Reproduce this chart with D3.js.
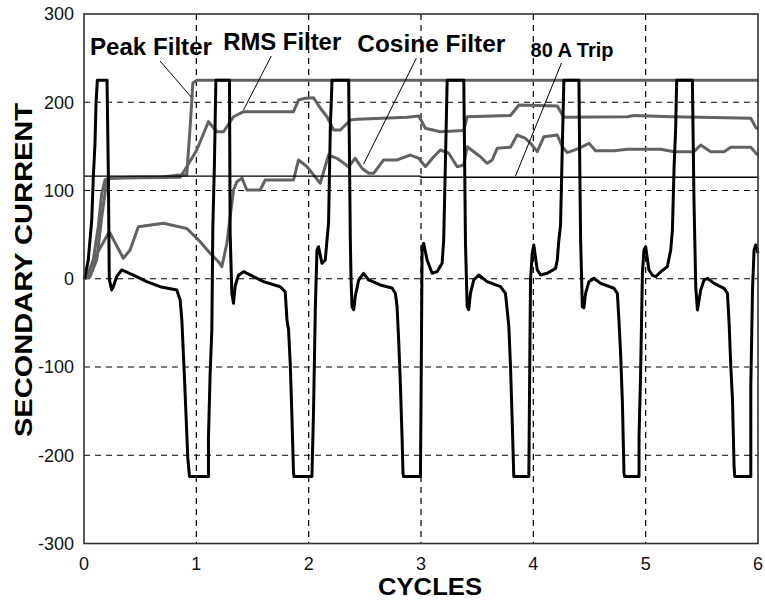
<!DOCTYPE html>
<html><head><meta charset="utf-8">
<script src="https://cdn.jsdelivr.net/npm/d3@7"></script>
<style>body{margin:0;background:#fff}svg{display:block}</style>
</head><body>
<svg id="chart" width="765" height="604"></svg>
<script>
// ---- data (cycles, amperes) ----
const xTicks = [0, 1, 2, 3, 4, 5, 6];
const yTicks = [-300, -200, -100, 0, 100, 200, 300];
const xGrid = [1, 2, 3, 4, 5];
const yGrid = [-200, -100, 0, 100, 200];

const current = [
 [0,0],[0.009,2.3],[0.038,21.2],[0.069,66.6],[0.083,115.6],[0.098,153.5],[0.107,198.8],[0.119,225],
 [0.205,225],[0.217,115],[0.225,-1],[0.247,-12.7],[0.261,-9],[0.291,2.3],[0.336,10],[0.439,4.2],
 [0.559,-3.3],[0.677,-9],[0.826,-12.7],[0.856,-24],[0.871,-46.7],[0.880,-72],[0.894,-111],[0.909,-157],
 [0.924,-203],[0.939,-224],[1.108,-224],[1.108,-179],[1.123,-107],[1.138,-58],[1.147,59],[1.161,130],
 [1.174,225],[1.295,225],[1.301,51.5],[1.316,-16.5],[1.331,-27.8],[1.346,-8],[1.375,4],[1.420,8],
 [1.598,-3.3],[1.747,-9],[1.791,-14.7],[1.807,-46.7],[1.821,-58],[1.836,-96],[1.851,-156],[1.865,-220],
 [1.870,-224],[2.029,-224],[2.044,-145],[2.059,-35],[2.074,32.6],[2.088,36.3],[2.118,17.5],[2.148,21.2],
 [2.163,43.9],[2.177,62.8],[2.193,172],[2.208,225],[2.356,225],[2.371,44],[2.377,0],[2.386,-31.7],
 [2.401,-35],[2.415,-20],[2.445,-1.4],[2.489,6.2],[2.534,-1.4],[2.638,-7],[2.742,-10.5],[2.772,-16.5],
 [2.787,-31.7],[2.801,-69],[2.816,-118],[2.832,-182],[2.840,-221],[2.845,-224],[2.995,-224],[3.001,-126],
 [3.010,36],[3.024,40.2],[3.054,21.2],[3.099,6.2],[3.143,8],[3.188,17.5],[3.202,43.9],[3.217,130],
 [3.233,225],[3.381,225],[3.396,40],[3.411,-31.7],[3.425,-35],[3.440,-16.5],[3.470,-1.4],[3.514,4.2],
 [3.589,-3.3],[3.708,-9],[3.752,-16.5],[3.782,-54],[3.797,-100],[3.812,-162],[3.826,-224],[3.960,-224],
 [3.969,-84.5],[3.975,-1.4],[3.990,28.8],[4.004,38.2],[4.035,10],[4.064,4.2],[4.124,6.2],[4.198,11.8],
 [4.213,21.2],[4.227,43.9],[4.242,60],[4.258,150],[4.272,225],[4.406,225],[4.414,120],[4.421,44],
 [4.436,-31.7],[4.450,-33],[4.465,-16.5],[4.495,-3.3],[4.539,0.5],[4.599,-5.2],[4.718,-10.8],[4.748,-16.5],
 [4.762,-46.7],[4.777,-84.5],[4.793,-141],[4.807,-220],[4.812,-224],[4.941,-224],[4.941,-179],[4.955,-107],
 [4.971,6.2],[4.985,32.6],[5.000,36.3],[5.029,9.9],[5.060,4.2],[5.089,2.3],[5.134,8],[5.193,13.7],
 [5.223,32.6],[5.238,55],[5.253,127],[5.267,170],[5.276,225],[5.416,225],[5.430,89],[5.446,-10],
 [5.461,-35.4],[5.490,-12.7],[5.520,-1.4],[5.550,0.5],[5.609,-5.2],[5.698,-10.8],[5.728,-16.5],[5.743,-50.5],
 [5.758,-99.7],[5.773,-137.4],[5.787,-213],[5.793,-224],[5.936,-224],[5.936,-122],[5.951,-12.7],[5.965,32.6],
 [5.980,38.2],[6.0,29]
];

const peakFilter = [
 [0,0],[0.024,2.3],[0.083,21.2],[0.127,59],[0.158,96.8],[0.187,112],[0.217,114],[0.400,115],
 [0.707,115.6],[0.856,117.6],[0.915,117.6],[0.945,172.3],[0.960,202.5],[0.969,221.8],[1.004,225],[6.0,225]
];

const rmsFilter = [
 [0,0],[0.053,2.3],[0.113,21.2],[0.158,70.3],[0.202,110],[0.232,114],[0.500,114.5],[0.856,115],
 [0.915,127],[1.004,145.9],[1.108,178],[1.183,166.6],[1.242,166.6],[1.331,183.6],[1.420,189.3],[1.865,189.3],
 [1.910,202.5],[1.970,204.5],[2.044,205],[2.103,193.5],[2.163,183.6],[2.222,168.6],[2.282,168.6],[2.371,179.9],
 [2.431,180.7],[2.876,183],[2.980,184.4],[3.039,170.5],[3.173,166.6],[3.381,168],[3.411,183.6],[3.797,185],
 [3.871,196.9],[4.213,195.8],[4.272,183],[4.837,183.6],[4.896,185],[5.223,183.6],[5.490,183],[5.936,181.8],
 [5.980,171.4],[6.0,169.7]
];

const cosineFilter = [
 [0,0],[0.024,2.3],[0.100,25],[0.225,53.3],[0.350,23.2],[0.410,32.6],[0.484,59],[0.707,62.8],
 [0.915,57],[1.034,42],[1.123,29],[1.197,19.3],[1.227,13.7],[1.272,40.2],[1.301,70.3],[1.331,100.6],
 [1.361,110],[1.406,114],[1.450,100.6],[1.569,100.6],[1.613,111.9],[1.865,111.9],[1.910,134.6],[1.985,127],
 [2.103,108.2],[2.177,140.2],[2.252,136.5],[2.356,127],[2.415,136.5],[2.475,125.2],[2.534,119.5],[2.578,119.5],
 [2.668,134.6],[2.787,134.6],[2.906,140.2],[2.980,136.5],[3.039,127],[3.113,138.3],[3.173,145.9],[3.247,142.2],
 [3.322,127],[3.381,128.9],[3.411,149.6],[3.529,138.3],[3.589,130.8],[3.634,134.6],[3.678,147.8],[3.797,149],
 [3.856,162.9],[3.930,159],[3.975,153.5],[4.035,144],[4.094,161],[4.213,162.9],[4.258,149.6],[4.302,143],
 [4.406,147.8],[4.495,153.5],[4.554,145],[4.718,145],[4.837,146.7],[5.134,146.7],[5.253,144],[5.430,144],
 [5.490,151.6],[5.579,144],[5.698,144],[5.758,149],[5.936,149],[5.996,140.2]
];

const tripLevel = [[0,116.4],[3,116.4],[3,115],[6,115]];

const annotationText = ["Peak Filter", "RMS Filter", "Cosine Filter", "80 A Trip"];
const xTitle = "CYCLES";
const yTitle = "SECONDARY CURRENT";

// ---- drawing ----
const svg = d3.select("#chart");
const x = d3.scaleLinear().domain([0, 6]).range([84, 758]);
const y = d3.scaleLinear().domain([-300, 300]).range([543.5, 14]);
const FONT = "'Liberation Sans', Arial, Helvetica, sans-serif";

// grid
const g = svg.append("g");
g.selectAll("line.vg").data(xGrid).enter().append("line")
  .attr("x1", d => x(d)).attr("x2", d => x(d)).attr("y1", y(300)).attr("y2", y(-300))
  .attr("stroke", "#000").attr("stroke-width", 1.2).attr("stroke-dasharray", "6,5");
g.selectAll("line.hg").data(yGrid).enter().append("line")
  .attr("x1", x(0)).attr("x2", x(6)).attr("y1", d => y(d)).attr("y2", d => y(d))
  .attr("stroke", "#000").attr("stroke-width", 1.2).attr("stroke-dasharray", "6,5");

const line = d3.line().x(d => x(d[0])).y(d => y(d[1]));

// filters (gray)
[peakFilter, rmsFilter, cosineFilter].forEach(s => {
  svg.append("path").datum(s).attr("d", line).attr("fill", "none")
    .attr("stroke", "#626262").attr("stroke-width", 3).attr("stroke-linejoin", "round");
});
// trip level
svg.append("path").datum(tripLevel).attr("d", line).attr("fill", "none")
  .attr("stroke", "#000").attr("stroke-width", 1.3);
// current waveform
svg.append("path").datum(current).attr("d", line).attr("fill", "none")
  .attr("stroke", "#000").attr("stroke-width", 3).attr("stroke-linejoin", "round");

// axes box
svg.append("rect").attr("x", x(0)).attr("y", y(300))
  .attr("width", x(6) - x(0)).attr("height", y(-300) - y(300))
  .attr("fill", "none").attr("stroke", "#333").attr("stroke-width", 1.6);

// tick labels
svg.selectAll("text.xt").data(xTicks).enter().append("text")
  .attr("x", d => x(d)).attr("y", 570).attr("text-anchor", "middle")
  .attr("font-family", FONT).attr("font-size", 18).attr("fill", "#111").text(d => d);
svg.selectAll("text.yt").data(yTicks).enter().append("text")
  .attr("x", 74).attr("y", d => y(d)).attr("dy", "0.36em").attr("text-anchor", "end")
  .attr("font-family", FONT).attr("font-size", 18).attr("fill", "#111").text(d => d);

// titles
svg.append("text").attr("x", 430).attr("y", 595).attr("text-anchor", "middle")
  .attr("font-family", FONT).attr("font-weight", "bold").attr("font-size", 23)
  .attr("textLength", 104).attr("lengthAdjust", "spacingAndGlyphs").text(xTitle);
svg.append("text").attr("transform", "translate(31.5,270) rotate(-90)").attr("text-anchor", "middle")
  .attr("font-family", FONT).attr("font-weight", "bold").attr("font-size", 23)
  .attr("textLength", 334).attr("lengthAdjust", "spacingAndGlyphs").text(yTitle);

// annotations: [text start (cycles, amps), text length px, font size, pointer from, pointer to]
const ann = [
  {t: annotationText[0], at: [0.053, 253.5], len: 122, fs: 23, p1: [0.677, 246.7], p2: [0.954, 206]},
  {t: annotationText[1], at: [1.239, 259.2], len: 118, fs: 23, p1: [1.667, 252.4], p2: [1.420, 191.2]},
  {t: annotationText[2], at: [2.433, 257.3], len: 148, fs: 23, p1: [2.959, 250.1], p2: [2.489, 130]},
  {t: annotationText[3], at: [3.975, 251.6], len: 83, fs: 20, p1: [4.251, 244.5], p2: [3.841, 116.4]}
];
ann.forEach(a => {
  svg.append("text").attr("x", x(a.at[0])).attr("y", y(a.at[1]))
    .attr("font-family", FONT).attr("font-weight", "bold").attr("font-size", a.fs)
    .attr("textLength", a.len).attr("lengthAdjust", "spacingAndGlyphs").text(a.t);
  svg.append("line").attr("x1", x(a.p1[0])).attr("y1", y(a.p1[1]))
    .attr("x2", x(a.p2[0])).attr("y2", y(a.p2[1])).attr("stroke", "#000").attr("stroke-width", 1);
});
</script>
</body></html>
